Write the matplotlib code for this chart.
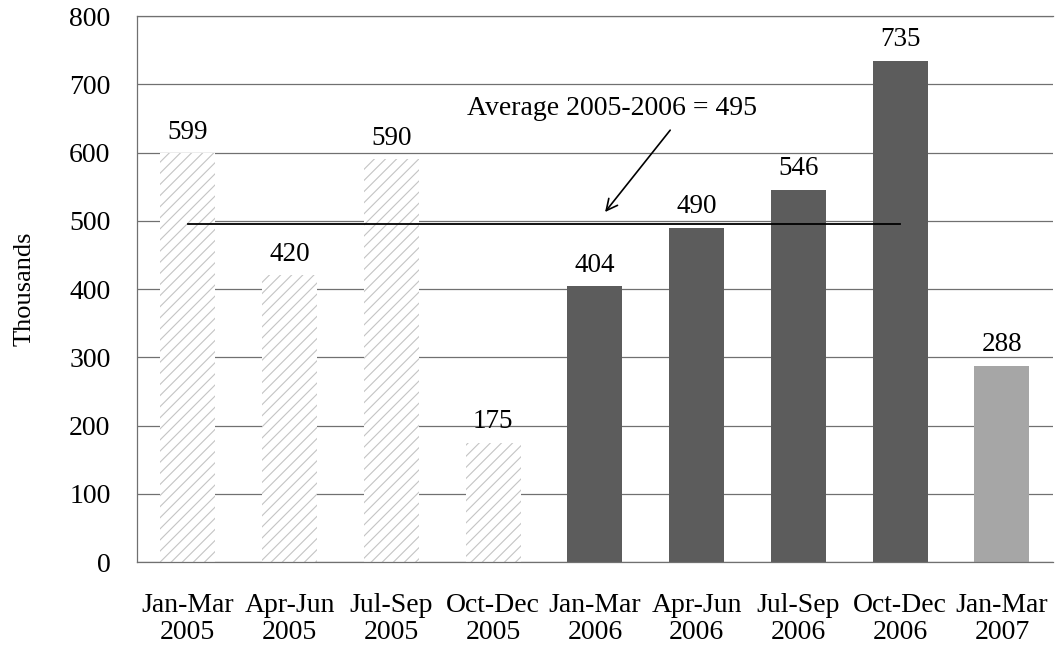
import matplotlib.pyplot as plt
import numpy as np

# quarterly values (thousands)
categories = ['Jan-Mar\n2005', 'Apr-Jun\n2005', 'Jul-Sep\n2005', 'Oct-Dec\n2005',
              'Jan-Mar\n2006', 'Apr-Jun\n2006', 'Jul-Sep\n2006', 'Oct-Dec\n2006',
              'Jan-Mar\n2007']
values = [599, 420, 590, 175, 404, 490, 546, 735, 288]
years = [2005, 2005, 2005, 2005, 2006, 2006, 2006, 2006, 2007]
average = 495
average_label = 'Average 2005-2006 = 495'

plt.rcParams['font.family'] = ['Liberation Serif', 'DejaVu Serif']
plt.rcParams['font.size'] = 20
plt.rcParams['hatch.linewidth'] = 0.8

fig = plt.figure(figsize=(10.56, 6.49), dpi=100)
ax = fig.add_axes([0.1297, 0.134, 0.8673, 0.841])

x = np.arange(len(categories))
face = {2005: 'white', 2006: '#5c5c5c', 2007: '#a6a6a6'}
for xi, v, yr in zip(x, values, years):
    if yr == 2005:
        ax.bar(xi, v, width=0.54, facecolor='white', edgecolor='#c4c4c4',
               hatch='///', linewidth=0, zorder=2)
    else:
        ax.bar(xi, v, width=0.54, color=face[yr], linewidth=0, zorder=2)
    ax.annotate(str(v), (xi, v), xytext=(0, 6), textcoords='offset points',
                ha='center', va='bottom', fontsize=19.5)

# average line across 2005-2006 quarters
ax.plot([x[0], x[7]], [average, average], color='black', lw=1.3, zorder=3)
ax.text(4.17, 665, average_label, ha='center', va='center', fontsize=20)
ax.annotate('', xy=(4.10, 513), xytext=(4.74, 633),
            arrowprops=dict(arrowstyle='->', color='black', lw=1.2,
                            shrinkA=0, shrinkB=0, mutation_scale=20))

ax.set_xlim(-0.5, len(categories) - 0.5)
ax.set_ylim(0, 800)
ax.set_yticks(range(0, 801, 100))
ax.set_xticks(x)
ax.set_xticklabels(categories, fontsize=20, linespacing=1.15)
ax.tick_params(axis='both', length=0)
ax.tick_params(axis='y', pad=19)
ax.tick_params(axis='x', pad=22)
ax.yaxis.grid(True, color='#707070', lw=0.9, zorder=0)
ax.set_axisbelow(True)
ax.set_ylabel('Thousands', fontsize=19, labelpad=24)

for side in ['left', 'bottom', 'top']:
    ax.spines[side].set_color('#707070')
    ax.spines[side].set_linewidth(0.9)
ax.spines['right'].set_visible(False)

fig.savefig('out.png', dpi=100)
